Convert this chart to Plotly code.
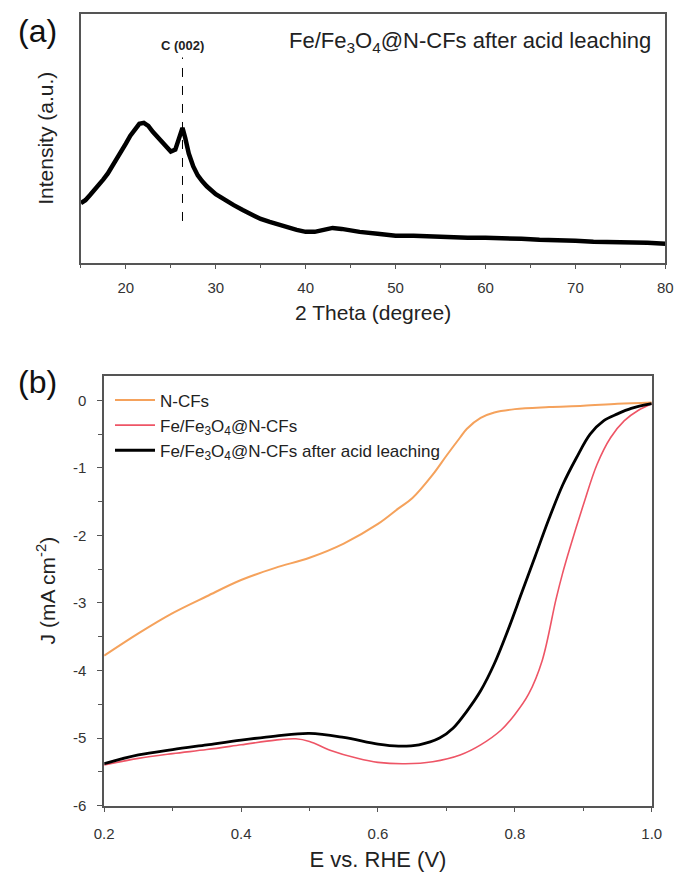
import plotly.graph_objects as go

# ---------------- (a) XRD data ----------------
two_theta = [15, 15.5, 16, 16.5, 17, 17.5, 18, 18.5, 19, 19.5, 20, 20.5, 21, 21.5, 22, 22.5,
             23, 23.5, 24, 24.5, 25, 25.5, 26, 26.3, 26.6, 27, 27.5, 28, 28.5, 29, 30, 31,
             32, 33, 34, 35, 36, 37, 38, 39, 40, 41, 42, 43, 44, 45, 46, 48, 50, 52, 54,
             56, 58, 60, 62, 64, 66, 68, 70, 72, 74, 76, 78, 80]
intensity = [60, 63, 68, 73, 78, 84, 90, 97, 104, 112, 120, 128, 135, 140, 141, 138,
             132, 127, 121, 116, 112, 114, 126, 136, 126, 110, 97, 88, 82, 77, 69, 63,
             58, 53, 48, 44, 41, 38, 35, 33, 31, 31, 33, 35, 34, 32, 31, 29, 27, 27, 26,
             26, 25, 25, 25, 24, 23, 23, 22, 21, 21, 20, 20, 19]
c002_position = 26.3
c002_span = [42, 207]

# ---------------- (b) LSV data ----------------
e_ncf = [0.2, 0.25, 0.3, 0.35, 0.4, 0.45, 0.5, 0.55, 0.6, 0.63, 0.65, 0.68, 0.7, 0.72,
         0.73, 0.75, 0.77, 0.8, 0.85, 0.9, 0.95, 1.0]
j_ncf = [-3.78, -3.45, -3.15, -2.9, -2.66, -2.48, -2.33, -2.12, -1.83, -1.6, -1.45, -1.1,
         -0.82, -0.55, -0.42, -0.26, -0.18, -0.13, -0.1, -0.08, -0.05, -0.03]

e_fe = [0.2, 0.25, 0.3, 0.35, 0.4, 0.45, 0.48, 0.5, 0.53, 0.57, 0.6, 0.64, 0.68, 0.72,
        0.75, 0.78, 0.8, 0.82, 0.84, 0.86, 0.87, 0.88, 0.9, 0.92, 0.94, 0.96, 0.98, 1.0]
j_fe = [-5.4, -5.3, -5.23, -5.17, -5.1, -5.03, -5.01, -5.05, -5.18, -5.3, -5.36, -5.38,
        -5.35, -5.25, -5.1, -4.88, -4.65, -4.35, -3.85, -2.95, -2.55, -2.2, -1.55, -0.95,
        -0.55, -0.3, -0.15, -0.05]

e_acid = [0.2, 0.25, 0.3, 0.35, 0.4, 0.45, 0.5, 0.55, 0.6, 0.63, 0.66, 0.69, 0.71, 0.73,
          0.75, 0.77, 0.79, 0.81, 0.83, 0.85, 0.87, 0.89, 0.91, 0.93, 0.95, 0.97, 1.0]
j_acid = [-5.38, -5.25, -5.17, -5.1, -5.03, -4.97, -4.93, -4.99, -5.09, -5.12, -5.1, -5.0,
          -4.85, -4.6, -4.3, -3.9, -3.4, -2.85, -2.3, -1.75, -1.25, -0.85, -0.5, -0.3, -0.2,
          -0.12, -0.05]

x_ticks_a = [20, 30, 40, 50, 60, 70, 80]
x_ticks_b = [0.2, 0.4, 0.6, 0.8, 1.0]
x_ticktext_b = ["0.2", "0.4", "0.6", "0.8", "1.0"]
y_ticks_b = [0, -1, -2, -3, -4, -5, -6]
y_ticktext_b = ["0", "-1", "-2", "-3", "-4", "-5", "-6"]

FONT = "Arial, Liberation Sans, sans-serif"
AXCOL = "#555555"
TXT = "#222222"
W, H = 687, 881

fig = go.Figure()

fig.add_trace(go.Scatter(x=two_theta, y=intensity, mode="lines",
                         line=dict(color="black", width=4.5), showlegend=False,
                         xaxis="x", yaxis="y"))

fig.add_trace(go.Scatter(x=e_ncf, y=j_ncf, mode="lines", name="N-CFs",
                         line=dict(color="#F5A25C", width=2, shape="spline"),
                         xaxis="x2", yaxis="y2"))
fig.add_trace(go.Scatter(x=e_fe, y=j_fe, mode="lines",
                         name="Fe/Fe<sub>3</sub>O<sub>4</sub>@N-CFs",
                         line=dict(color="#EE5566", width=1.6, shape="spline"),
                         xaxis="x2", yaxis="y2"))
fig.add_trace(go.Scatter(x=e_acid, y=j_acid, mode="lines",
                         name="Fe/Fe<sub>3</sub>O<sub>4</sub>@N-CFs after acid leaching",
                         line=dict(color="black", width=2.8, shape="spline"),
                         xaxis="x2", yaxis="y2"))

def px_x(p):
    return p / W

def px_y(p):
    return 1 - p / H

common_axis = dict(showline=True, linecolor=AXCOL, linewidth=1.5, mirror=True,
                   showgrid=False, zeroline=False,
                   tickfont=dict(family=FONT, size=15, color="#333333"))

fig.update_layout(
    width=W, height=H,
    margin=dict(l=0, r=0, t=0, b=0),
    paper_bgcolor="white", plot_bgcolor="white",
    font=dict(family=FONT, color=TXT),
    xaxis=dict(domain=[px_x(73), px_x(675)], range=[15, 80], anchor="y",
               tickvals=x_ticks_a, ticks="outside", ticklen=5, tickcolor=AXCOL,
               ticklabelstandoff=6,
               minor=dict(ticks="outside", ticklen=4, dtick=5, tick0=15, tickcolor=AXCOL),
               title=dict(text="2 Theta (degree)", font=dict(family=FONT, size=21, color=TXT),
                          standoff=10),
               **common_axis),
    yaxis=dict(domain=[px_y(265), px_y(14)], range=[0, 251], anchor="x",
               showticklabels=False, ticks="",
               title=dict(text="Intensity (a.u.)", font=dict(family=FONT, size=21, color=TXT),
                          standoff=20),
               **common_axis),
    xaxis2=dict(domain=[px_x(97), px_x(661)], range=[0.2, 1.0], anchor="y2",
                tickvals=x_ticks_b, ticktext=x_ticktext_b,
                ticks="outside", ticklen=5, tickcolor=AXCOL,
                ticklabelstandoff=9,
                minor=dict(ticks="outside", ticklen=4, dtick=0.1, tick0=0.2, tickcolor=AXCOL),
                title=dict(text="E vs. RHE (V)", font=dict(family=FONT, size=22, color=TXT),
                           standoff=10),
                **common_axis),
    yaxis2=dict(domain=[px_y(813), px_y(379)], range=[-6, 0.367], anchor="x2",
                tickvals=y_ticks_b, ticktext=y_ticktext_b,
                ticks="outside", ticklen=5, tickcolor=AXCOL,
                ticklabelstandoff=8,
                minor=dict(ticks="outside", ticklen=4, dtick=0.5, tick0=0, tickcolor=AXCOL),
                title=dict(text="J (mA cm<sup>-2</sup>)", font=dict(family=FONT, size=21, color=TXT),
                           standoff=12),
                **common_axis),
    legend=dict(x=px_x(103), y=px_y(386), xanchor="left", yanchor="top",
                bgcolor="rgba(0,0,0,0)", font=dict(family=FONT, size=17, color=TXT),
                tracegroupgap=0, itemwidth=40),
)

fig.add_shape(type="line", xref="x", yref="y", x0=c002_position, x1=c002_position,
              y0=c002_span[0], y1=c002_span[1], line=dict(color="black", width=1, dash="dash"))

fig.add_annotation(x=c002_position, y=c002_span[1], xref="x", yref="y", yanchor="bottom",
                   text="<b>C (002)</b>", showarrow=False, yshift=2,
                   font=dict(family=FONT, size=13, color=TXT))
fig.add_annotation(x=px_x(662), y=px_y(42), xref="paper", yref="paper",
                   xanchor="right", yanchor="middle", showarrow=False,
                   text="Fe/Fe<sub>3</sub>O<sub>4</sub>@N-CFs after acid leaching",
                   font=dict(family=FONT, size=22, color=TXT))
fig.add_annotation(x=px_x(6), y=px_y(31), xref="paper", yref="paper",
                   xanchor="left", yanchor="middle", showarrow=False, text="(a)",
                   font=dict(family=FONT, size=32, color="#111"))
fig.add_annotation(x=px_x(6), y=px_y(386), xref="paper", yref="paper",
                   xanchor="left", yanchor="middle", showarrow=False, text="(b)",
                   font=dict(family=FONT, size=32, color="#111"))

fig.write_html("out.html")
